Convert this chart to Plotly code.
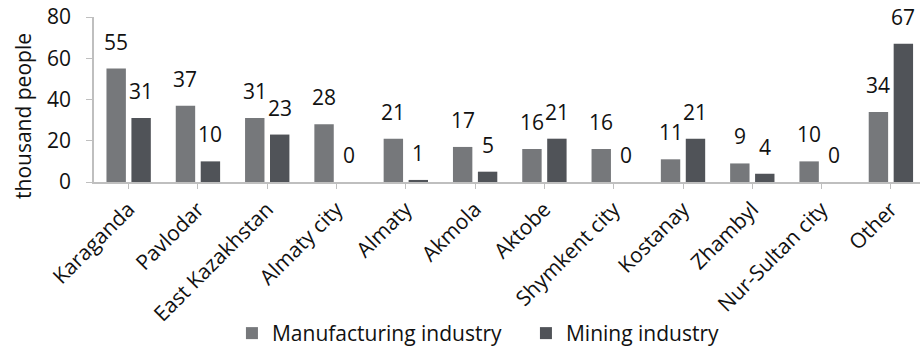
import plotly.graph_objects as go

regions = ["Karaganda", "Pavlodar", "East Kazakhstan", "Almaty city", "Almaty",
           "Akmola", "Aktobe", "Shymkent city", "Kostanay", "Zhambyl",
           "Nur-Sultan city", "Other"]
manufacturing = [55, 37, 31, 28, 21, 17, 16, 16, 11, 9, 10, 34]
mining = [31, 10, 23, 0, 1, 5, 21, 0, 21, 4, 0, 67]

FONT = "'Open Sans', 'Noto Sans', sans-serif"
C_MANUF = "#76787b"
C_MINING = "#505358"
AXIS = "#bfbfbf"
TXT = "#111111"

idx = list(range(len(regions)))
OFF = 0.18
W = 0.28

fig = go.Figure()
fig.add_trace(go.Bar(
    name="Manufacturing industry", x=[i - OFF for i in idx], y=manufacturing,
    width=W, marker=dict(color=C_MANUF, line=dict(width=0)),
))
fig.add_trace(go.Bar(
    name="Mining industry", x=[i + OFF for i in idx], y=mining,
    width=W, marker=dict(color=C_MINING, line=dict(width=0)),
))

# value labels above each bar
annotations = []
for series, sign in ((manufacturing, -1), (mining, 1)):
    for i, v in zip(idx, series):
        annotations.append(dict(
            x=i + sign * OFF, y=v, xref="x", yref="y", text=str(v),
            showarrow=False, yanchor="bottom", xanchor="center", yshift=11,
            font=dict(family=FONT, size=21, color=TXT),
        ))

# y-axis title
annotations.append(dict(
    x=-0.086, y=0.40, xref="paper", yref="paper", text="thousand people",
    textangle=-90, showarrow=False, xanchor="center", yanchor="middle",
    font=dict(family=FONT, size=21, color=TXT),
))

fig.update_layout(
    width=920, height=348,
    margin=dict(l=94, r=0, t=17, b=166, autoexpand=False),
    paper_bgcolor="white", plot_bgcolor="white",
    barmode="overlay",
    font=dict(family=FONT, size=21, color=TXT),
    annotations=annotations,
    showlegend=True,
    legend=dict(orientation="h", x=0.167, xanchor="left", y=-0.918, yanchor="middle",
                font=dict(family=FONT, size=21, color=TXT),
                itemwidth=30, entrywidth=249, entrywidthmode="pixels",
                traceorder="normal"),
    xaxis=dict(
        range=[-0.5, 11.42], tickmode="array", tickvals=idx, ticktext=regions,
        tickangle=-45, ticks="outside", ticklen=5, tickcolor=AXIS,
        showline=True, linecolor=AXIS, linewidth=1.5, showgrid=False,
        ticklabelstandoff=0, automargin=False,
        tickfont=dict(family=FONT, size=21, color=TXT), zeroline=False,
    ),
    yaxis=dict(
        range=[0, 80], tickvals=[0, 20, 40, 60, 80], ticks="outside", ticklen=6,
        tickcolor=AXIS, showline=True, linecolor=AXIS, linewidth=1.5,
        showgrid=False, zeroline=False, ticklabelstandoff=11, automargin=False,
        tickfont=dict(family=FONT, size=21, color=TXT),
    ),
)

fig.write_html("out.html")
